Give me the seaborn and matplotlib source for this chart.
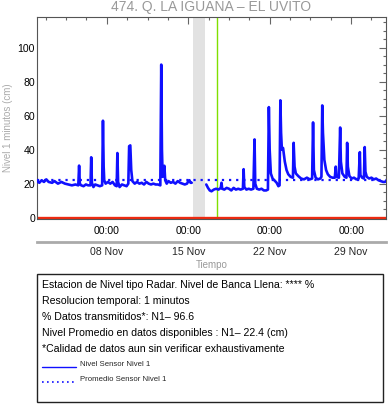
#!/usr/bin/env python3
"""
Nivel 1 minutos - estacion 474 Q. La Iguana - El Uvito
"""
import pandas as pd
import matplotlib
matplotlib.use('Agg')
import matplotlib.pyplot as plt
import matplotlib.dates as mdates
from matplotlib.ticker import AutoMinorLocator, MultipleLocator
from matplotlib.patches import Rectangle
from matplotlib.lines import Line2D
import seaborn as sns

# Configuration
sns.set_style('white')
plt.rcParams['font.family'] = ['Liberation Sans', 'DejaVu Sans']

INICIO = pd.Timestamp('2020-11-02 00:00')
FIN = INICIO + pd.Timedelta(days=30)

# --- datos (dias desde el inicio, nivel en cm) ---
dias_pre = [0.0, 0.2, 0.4, 0.6, 0.8, 1.0, 1.3, 1.5, 1.8, 2.1, 2.4, 2.7, 3.0, 3.3,
            3.55, 3.62, 3.68, 3.8, 4.0, 4.2, 4.4, 4.6, 4.66, 4.72, 4.85, 5.0, 5.2,
            5.4, 5.6, 5.67, 5.73, 5.78, 5.9, 6.1, 6.3, 6.5, 6.7, 6.85, 6.91, 6.97,
            7.1, 7.3, 7.5, 7.7, 7.85, 7.92, 8.02, 8.1, 8.2, 8.4, 8.6, 8.8, 9.0,
            9.2, 9.4, 9.6, 9.8, 10.0, 10.2, 10.4, 10.6, 10.68, 10.74, 10.8, 10.88,
            10.95, 11.02, 11.15, 11.3, 11.5, 11.7, 11.9, 12.1, 12.3, 12.5, 12.7,
            12.9, 13.0, 13.1, 13.2, 13.3]
nivel_pre = [21.5, 20.5, 22.0, 21.0, 22.5, 21.0, 20.5, 21.5, 20.0, 21.0, 20.0, 19.5, 19.0, 19.5,
             19.0, 30.6, 20.0, 19.0, 18.5, 19.5, 19.0, 19.0, 35.5, 20.5, 18.0, 19.5, 19.0,
             18.5, 19.0, 57.0, 30.0, 22.0, 20.0, 21.0, 20.0, 21.0, 19.0, 18.5, 38.0, 21.0,
             18.0, 19.5, 19.0, 18.5, 20.0, 42.0, 42.5, 28.0, 21.5, 20.0, 21.0, 20.0, 20.5,
             19.5, 21.0, 20.0, 19.5, 20.0, 19.5, 19.5, 19.0, 90.0, 40.0, 24.0, 27.0,
             30.5, 22.0, 20.0, 21.5, 20.5, 21.0, 20.0, 21.5, 20.5, 20.0, 19.5,
             20.0, 21.5, 22.0, 20.5, 20.5]

dias_post = [14.55, 14.7, 14.85, 15.0, 15.2, 15.4, 15.6, 15.8, 15.86, 15.92, 16.1, 16.3,
             16.5, 16.7, 16.9, 17.1, 17.3, 17.5, 17.7, 17.76, 17.82, 18.0, 18.2, 18.4,
             18.6, 18.7, 18.76, 18.9, 19.1, 19.3, 19.5, 19.7, 19.85, 19.93, 20.0, 20.1,
             20.25, 20.4, 20.6, 20.75, 20.85, 20.92, 20.98, 21.05, 21.15, 21.3, 21.45,
             21.6, 21.8, 22.0, 22.06, 22.14, 22.25, 22.45, 22.7, 22.95, 23.2, 23.45,
             23.65, 23.73, 23.8, 23.95, 24.15, 24.35, 24.45, 24.52, 24.58, 24.7, 24.85,
             25.0, 25.2, 25.4, 25.6, 25.68, 25.74, 25.95, 26.06, 26.12, 26.25, 26.45,
             26.6, 26.66, 26.72, 26.85, 27.05, 27.25, 27.45, 27.65, 27.75, 27.8, 27.95,
             28.1, 28.17, 28.23, 28.35, 28.55, 28.75, 28.95, 29.15, 29.35, 29.55, 29.75,
             29.9, 30.0]
nivel_post = [19.5, 17.5, 16.0, 15.5, 16.5, 17.0, 16.5, 17.5, 20.5, 17.0, 16.5, 17.5,
              17.0, 16.0, 17.5, 16.5, 17.0, 16.5, 17.0, 28.5, 18.0, 16.5, 17.0, 16.5,
              17.0, 46.0, 20.0, 17.0, 16.5, 17.0, 16.0, 16.0, 16.5, 65.0, 40.0, 26.0,
              23.0, 22.0, 20.5, 18.5, 19.0, 69.0, 50.0, 40.0, 41.0, 33.0, 28.0,
              25.5, 24.0, 23.5, 44.0, 30.0, 26.0, 24.5, 23.0, 22.5, 23.5, 22.5,
              23.0, 56.0, 28.0, 23.5, 22.5, 23.0, 24.0, 66.0, 50.0, 34.0, 28.0,
              25.5, 24.0, 23.5, 23.5, 30.0, 24.0, 23.5, 53.0, 33.0, 26.0, 24.0,
              23.5, 44.0, 30.0, 24.5, 23.0, 23.5, 22.5, 23.0, 38.5, 25.0, 23.5,
              23.0, 41.5, 27.0, 24.0, 23.0, 23.5, 22.5, 23.0, 22.0, 21.5, 21.0,
              21.0, 21.5]

nivel_promedio = 22.4
hueco_ini, hueco_fin = 13.42, 14.46   # sin datos (franja gris)
dia_verde = 15.46

titulo = '474. Q. LA IGUANA \u2013 EL UVITO'
lineas_info = [
    'Estacion de Nivel tipo Radar. Nivel de Banca Llena: **** %',
    'Resolucion temporal: 1 minutos',
    '% Datos transmitidos*: N1\u2013 96.6',
    'Nivel Promedio en datos disponibles : N1\u2013 22.4 (cm)',
    '*Calidad de datos aun sin verificar exhaustivamente',
]
leyenda = ['Nivel Sensor Nivel 1', 'Promedio Sensor Nivel 1']


def a_fecha(d):
    return INICIO + pd.to_timedelta(pd.Series(d, dtype=float), unit='D')


pre = pd.DataFrame({'t': a_fecha(dias_pre), 'nivel': nivel_pre})
post = pd.DataFrame({'t': a_fecha(dias_post), 'nivel': nivel_post})

W, H = 388, 404
fig = plt.figure(figsize=(W / 100, H / 100), dpi=100)
fig.patch.set_facecolor('white')

x0, x1, y0, y1 = 37, 386, 17, 219
ax = fig.add_axes([x0 / W, 1 - y1 / H, (x1 - x0) / W, (y1 - y0) / H])

AZUL = '#1010ff'
ax.axvspan(INICIO + pd.Timedelta(days=hueco_ini), INICIO + pd.Timedelta(days=hueco_fin),
           color='#e2e2e2', lw=0, zorder=0)
ax.axvline(INICIO + pd.Timedelta(days=dia_verde), color='#80e000', lw=1.0, zorder=1)
ax.axhline(0, color='#ee2a10', lw=2.4, zorder=2)
ax.axhline(nivel_promedio, color=AZUL, lw=1.6, ls=(0, (1, 2.2)), zorder=3)

for df in (pre, post):
    sns.lineplot(data=df, x='t', y='nivel', color=AZUL, lw=1.9, estimator=None,
                 ax=ax, zorder=4)

ax.set_xlim(INICIO, FIN)
ax.set_ylim(-0.8, 118)
ax.set_xlabel('')
ax.set_ylabel('')

ax.yaxis.set_major_locator(MultipleLocator(20))
ax.yaxis.set_minor_locator(MultipleLocator(5))
ax.xaxis.set_major_locator(mdates.DayLocator(bymonthday=[8, 15, 22, 29]))
ax.xaxis.set_major_formatter(mdates.DateFormatter('%H:%M'))
ax.xaxis.set_minor_locator(AutoMinorLocator(4))

ax.tick_params(which='both', direction='in', top=True, right=True,
               color='#666666', labelsize=7.6, labelcolor='black')
ax.tick_params(which='major', length=5, width=0.8)
ax.tick_params(which='minor', length=2.5, width=0.8)
ax.tick_params(axis='y', pad=1.5)
ax.tick_params(axis='x', pad=5)
for s in ax.spines.values():
    s.set_color('#555555')
    s.set_linewidth(0.8)

# segundo eje de fechas
ax2 = fig.add_axes([x0 / W, 1 - 241.7 / H, (x1 - x0) / W, 0.0001])
ax2.set_facecolor('none')
for k in ('top', 'left', 'right'):
    ax2.spines[k].set_visible(False)
ax2.spines['bottom'].set_color('#aaaaaa')
ax2.spines['bottom'].set_linewidth(2)
ax2.set_yticks([])
ax2.set_xlim(INICIO, FIN)
ax2.xaxis.set_major_locator(mdates.DayLocator(bymonthday=[8, 15, 22, 29]))
ax2.xaxis.set_major_formatter(mdates.DateFormatter('%d %b'))
ax2.xaxis.set_minor_locator(plt.NullLocator())
ax2.tick_params(axis='x', direction='in', length=3, color='#888888',
                labelsize=7.6, pad=4)

fig.text(211.5 / W, 1 - 7 / H, titulo, ha='center', va='center',
         fontsize=10, color='#999999')
fig.text(8 / W, 1 - 128 / H, 'Nivel 1 minutos (cm)', ha='center', va='center',
         rotation=90, fontsize=7, color='#aaaaaa')
fig.text(211.5 / W, 1 - 265.5 / H, 'Tiempo', ha='center', va='center',
         fontsize=7, color='#999999')

# caja de informacion
fig.add_artist(Rectangle((37 / W, 1 - 402 / H), (383 - 37) / W, (402 - 274) / H,
                         transform=fig.transFigure, fill=False, lw=1, ec='#222222'))
for i, txt in enumerate(lineas_info):
    fig.text(42 / W, 1 - (284.5 + 16 * i) / H, txt, ha='left', va='center',
             fontsize=7.6, color='black')
fig.add_artist(Line2D([41.5 / W, 76 / W], [1 - 367 / H] * 2, transform=fig.transFigure,
                      color=AZUL, lw=1))
fig.add_artist(Line2D([41.5 / W, 76 / W], [1 - 382 / H] * 2, transform=fig.transFigure,
                      color=AZUL, lw=1.2, ls=(0, (1, 2))))
fig.text(80 / W, 1 - 364.5 / H, leyenda[0], ha='left', va='center', fontsize=5.6)
fig.text(80 / W, 1 - 379.5 / H, leyenda[1], ha='left', va='center', fontsize=5.6)

plt.savefig('out.png', dpi=100, facecolor='white')
plt.close()
